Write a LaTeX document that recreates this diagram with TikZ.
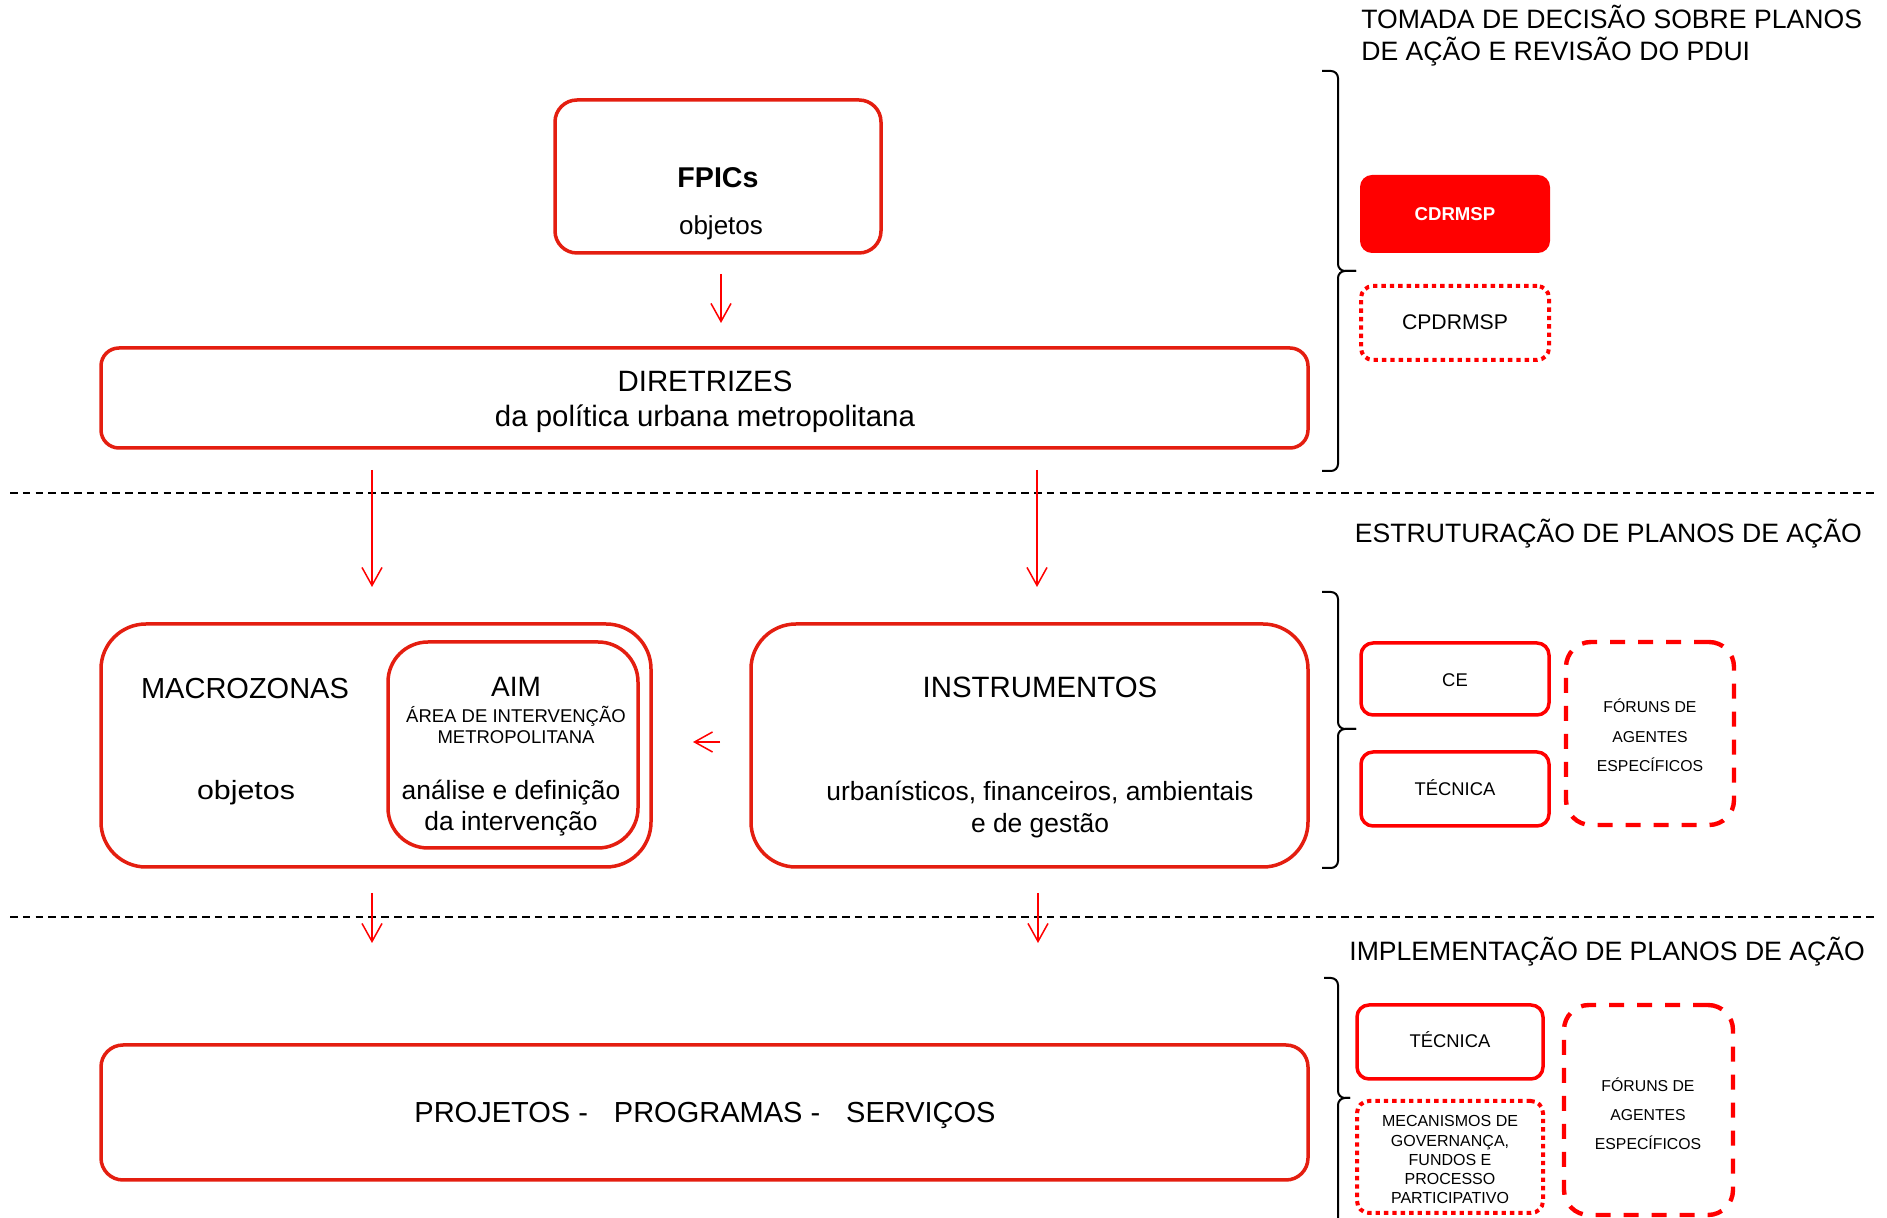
\documentclass[tikz,border=0pt]{standalone}
\usepackage{fontspec}
\setmainfont{Liberation Sans}
\usetikzlibrary{arrows.meta}
\definecolor{boxred}{RGB}{228,30,16}
\definecolor{pured}{RGB}{255,0,0}
\newcommand\fsz[2]{\fontsize{#1}{#2}\selectfont}
\begin{document}
\begin{tikzpicture}[x=0.5pt,y=-0.5pt,
  bigbox/.style={draw=boxred, line width=1.75pt, rounded corners=#1, inner sep=0pt, outer sep=0pt},
  smallbox/.style={draw=pured, line width=1.75pt, rounded corners=6pt, inner sep=0pt, outer sep=0pt},
  dotbox/.style={draw=pured, line width=2pt, dash pattern=on 2.2pt off 2pt, rounded corners=6pt, inner sep=0pt, outer sep=0pt},
  dashbox/.style={draw=pured, line width=2.2pt, dash pattern=on 7.5pt off 6.5pt, rounded corners=12.5pt, inner sep=0pt, outer sep=0pt},
  txt/.style={anchor=base, inner sep=0pt, outer sep=0pt},
  hdr/.style={anchor=base west, inner sep=0pt, font=\fsz{13.3}{16}, align=left},
  arr/.style={draw=pured, line width=0.75pt, -{Straight Barb[length=9pt,width=10pt]}},
  sep/.style={draw=black, line width=1pt, dash pattern=on 3.75pt off 2.65pt},
  brk/.style={draw=black, line width=1pt, rounded corners=3.5pt},
]
\useasboundingbox (0,0) rectangle (1887,1218);
\fill[white] (0,0) rectangle (1887,1218);

% section headers (base anchor = last line of a multi-line node)
\node[hdr] (h1) at (1361,61) {TOMADA DE DECISÃO SOBRE PLANOS\\DE AÇÃO E REVISÃO DO PDUI};
\node[hdr] (h2) at (1354.5,543) {ESTRUTURAÇÃO DE PLANOS DE AÇÃO};
\node[hdr] (h3) at (1349,961) {IMPLEMENTAÇÃO DE PLANOS DE AÇÃO};

% separators
\coordinate (s1a) at (10,493); \coordinate (s1b) at (1877,493);
\coordinate (s2a) at (10,917); \coordinate (s2b) at (1877,917);
\draw[sep] (s1a) -- (s1b);
\draw[sep] (s2a) -- (s2b);

% brackets
\draw[brk] (1322,71) -- (1338,71) -- (1338,271) -- (1356,271);
\draw[brk] (1356,271) -- (1338,271) -- (1338,471) -- (1322,471);
\draw[brk] (1322,592) -- (1338,592) -- (1338,729) -- (1356,729);
\draw[brk] (1356,729) -- (1338,729) -- (1338,868) -- (1322,868);
\draw[brk] (1324,978) -- (1338,978) -- (1338,1098) -- (1350,1098);
\draw[brk] (1350,1098) -- (1338,1098) -- (1338,1230);

% FPICs
\node[bigbox=11pt, minimum width=163pt, minimum height=76.5pt] (fpics) at (718,176.5) {};
\node[txt, font=\bfseries\fsz{14.3}{17}] (fpicsT) at (718,188) {FPICs};
\node[txt, font=\fsz{13}{16}] (fpicsO) at (721,235) {objetos};

% DIRETRIZES
\node[bigbox=9pt, minimum width=603.5pt, minimum height=50pt] (dir) at (704.5,398) {};
\node[txt, font=\fsz{14.7}{17}] (dirT) at (705,392) {DIRETRIZES};
\node[txt, font=\fsz{14.7}{17}] (dirS) at (705,427) {da política urbana metropolitana};

% CDRMSP / CPDRMSP
\node[fill=pured, rounded corners=6pt, inner sep=0pt, minimum width=95pt, minimum height=39pt] (cdr) at (1455,214) {};
\node[txt, text=white, font=\bfseries\fsz{9.3}{11}] (cdrT) at (1455,221) {CDRMSP};
\node[dotbox, minimum width=94pt, minimum height=37pt] (cpd) at (1455,323) {};
\node[txt, font=\fsz{10.6}{12}] (cpdT) at (1455,330) {CPDRMSP};

% MACROZONAS + AIM
\node[bigbox=22.5pt, minimum width=275pt, minimum height=121.5pt] (macro) at (376,745.5) {};
\node[bigbox=20pt, minimum width=125pt, minimum height=103pt] (aim) at (513,745) {};
\node[txt, font=\fsz{14.5}{17}] (macroT) at (245,699) {MACROZONAS};
\node[txt, font=\fsz{13.2}{16}] (macroO) at (246,800) {\scalebox{1.15}[1]{objetos}};
\node[txt, font=\fsz{14}{17}] (aimT) at (516,697) {AIM};
\node[txt, font=\fsz{9.25}{10.5}, align=center] (aimS) at (516,744) {ÁREA DE INTERVENÇÃO\\METROPOLITANA};
\node[txt, font=\fsz{13.2}{15.5}, align=center] (aimD) at (511,831) {análise e definição\\da intervenção};

% INSTRUMENTOS
\node[bigbox=22.5pt, minimum width=278.5pt, minimum height=121.5pt] (instr) at (1029.5,745.5) {};
\node[txt, font=\fsz{14.7}{17}] (instrT) at (1040,698) {INSTRUMENTOS};
\node[txt, font=\fsz{13.2}{16}, align=center] (instrS) at (1040,833) {urbanísticos, financeiros, ambientais\\e de gestão};

% CE / TECNICA / FORUNS (estruturação)
\node[smallbox, minimum width=94pt, minimum height=36pt] (ce) at (1455,679) {};
\node[txt, font=\fsz{9.2}{11}] (ceT) at (1455,687) {CE};
\node[smallbox, minimum width=94pt, minimum height=37pt] (tec) at (1455,789) {};
\node[txt, font=\fsz{9.2}{11}] (tecT) at (1455,796) {TÉCNICA};
\node[dashbox, minimum width=84pt, minimum height=91.5pt] (for1) at (1650,733.5) {};
\node[txt, font=\fsz{7.9}{14.75}, align=center] (for1T) at (1650,772) {FÓRUNS DE\\AGENTES\\ESPECÍFICOS};

% PROJETOS
\node[bigbox=11pt, minimum width=603.5pt, minimum height=67.5pt] (proj) at (704.5,1112.5) {};
\node[txt, font=\fsz{14.5}{17}] (projT) at (705,1123) {PROJETOS -\hspace{13pt}PROGRAMAS -\hspace{13pt}SERVIÇOS};

% implementação boxes
\node[smallbox, minimum width=93pt, minimum height=37pt] (tec2) at (1450,1042) {};
\node[txt, font=\fsz{9.2}{11}] (tec2T) at (1450,1048) {TÉCNICA};
\node[dotbox, minimum width=93pt, minimum height=56pt] (mec) at (1450,1157) {};
\node[txt, font=\fsz{8}{9.65}, align=center] (mecT) at (1450,1204) {MECANISMOS DE\\GOVERNANÇA,\\FUNDOS E\\PROCESSO\\PARTICIPATIVO};
\node[dashbox, minimum width=84.5pt, minimum height=105pt] (for2) at (1648.5,1110) {};
\node[txt, font=\fsz{7.9}{14.5}, align=center] (for2T) at (1648,1150) {FÓRUNS DE\\AGENTES\\ESPECÍFICOS};

% arrows
\draw[arr] ([xshift=1.5pt,yshift=-10.5pt]fpics.south) -- ([xshift=8.25pt,yshift=12.5pt]dir.north);
\draw[arr] ([xshift=-166.25pt,yshift=-11pt]dir.south) -- ([xshift=-2pt,yshift=18.5pt]macro.north);
\draw[arr] ([xshift=166.25pt,yshift=-11pt]dir.south) -- ([xshift=3.75pt,yshift=18.5pt]instr.north);
\draw[arr] ([xshift=-15.5pt,yshift=1.75pt]instr.west) -- ([xshift=21pt,yshift=1.75pt]macro.east);
\draw[arr] ([xshift=-2pt,yshift=-13pt]macro.south) -- ([xshift=-166.25pt,yshift=51pt]proj.north);
\draw[arr] ([xshift=4.25pt,yshift=-13pt]instr.south) -- ([xshift=166.75pt,yshift=51pt]proj.north);
\end{tikzpicture}
\end{document}
